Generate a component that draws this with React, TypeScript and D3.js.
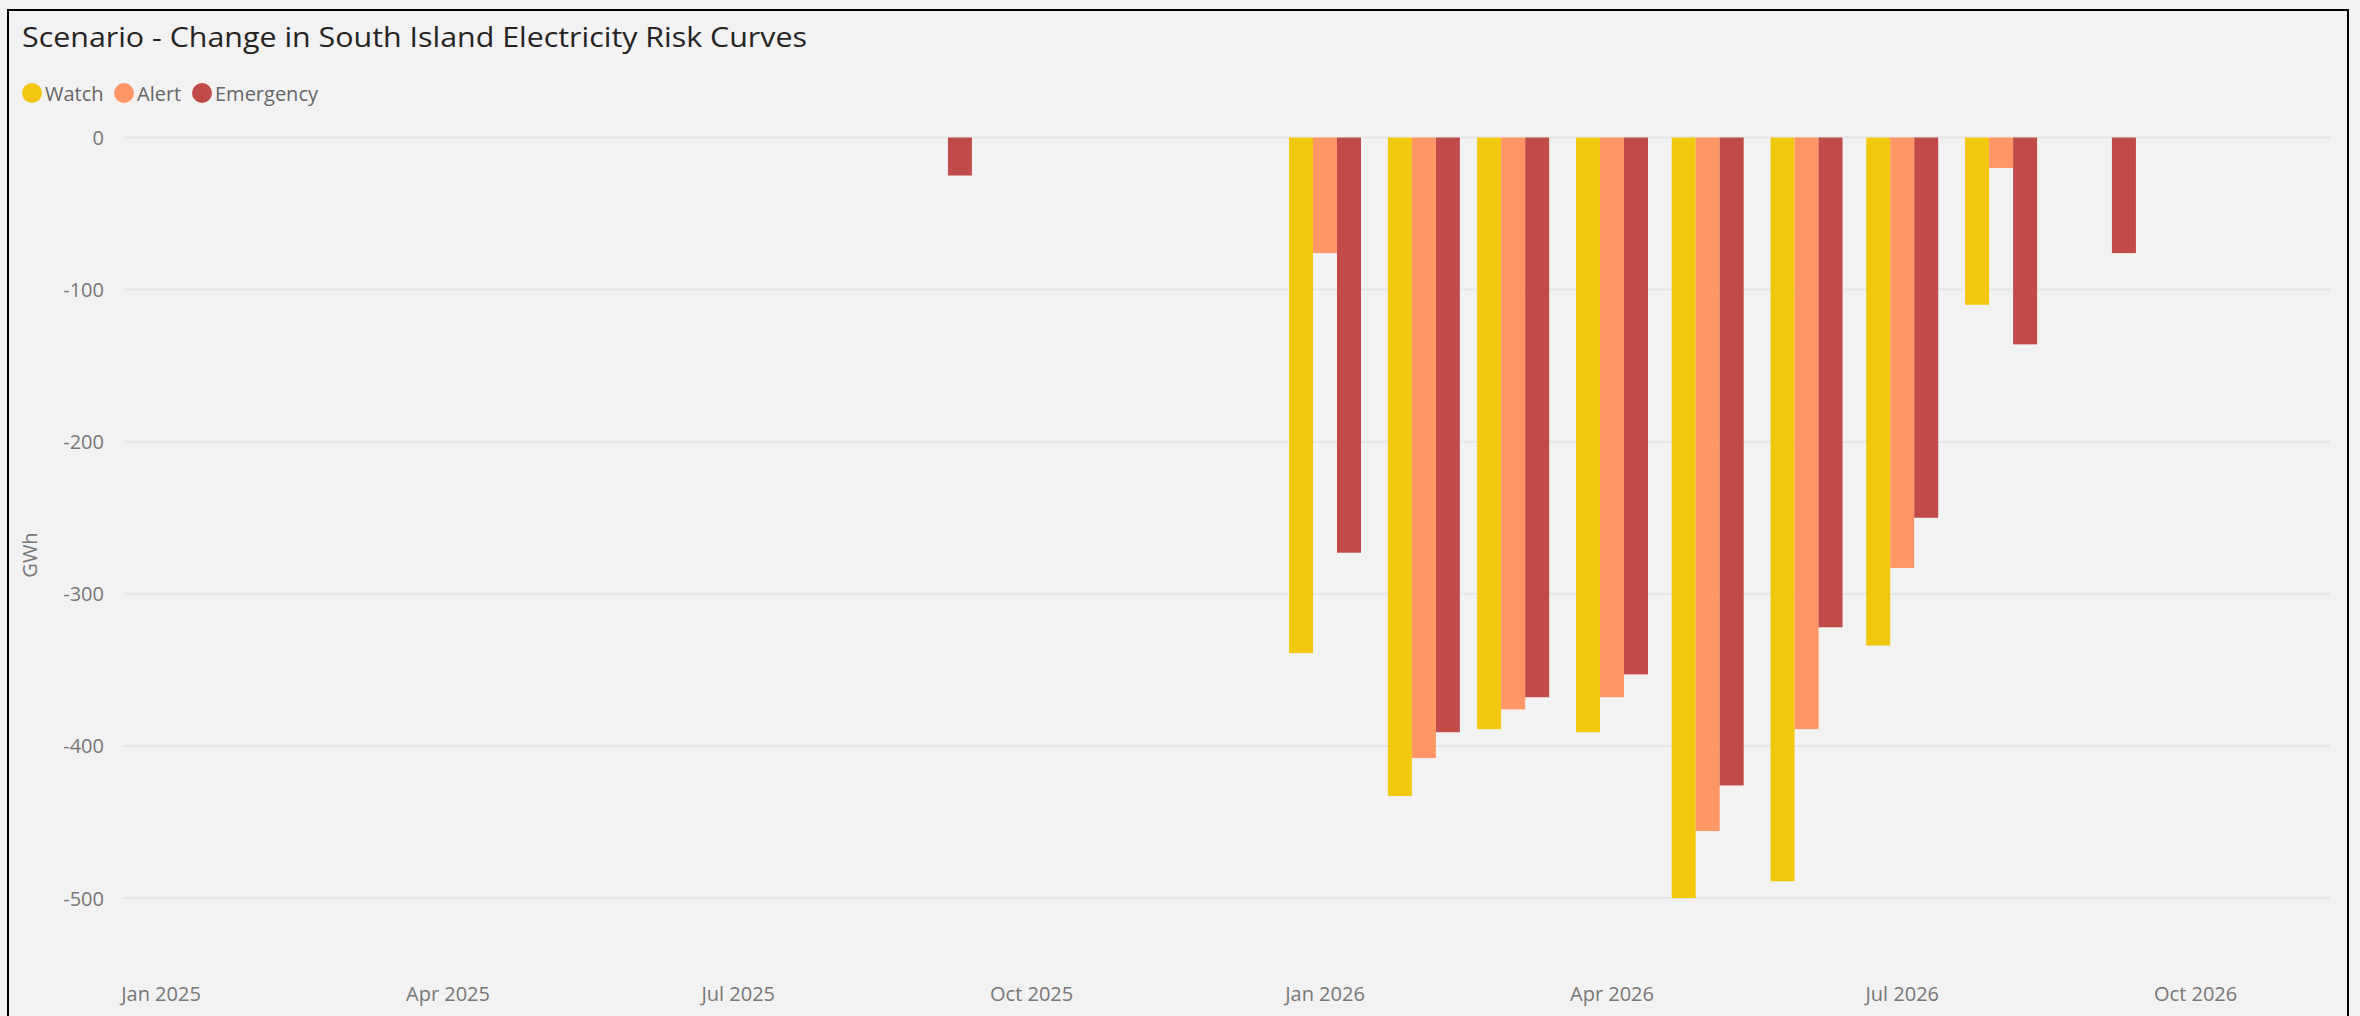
import React from "react";
import * as d3 from "d3";

// Monthly change in South Island electricity risk curves (GWh), by risk level
const months = [
  "2025-09", "2025-10", "2025-11", "2025-12",
  "2026-01", "2026-02", "2026-03", "2026-04",
  "2026-05", "2026-06", "2026-07", "2026-08", "2026-09",
];
const watch = [0, 0, 0, 0, -339, -433, -389, -391, -500, -489, -334, -110, 0];
const alert = [0, 0, 0, 0, -76, -408, -376, -368, -456, -389, -283, -20, 0];
const emergency = [-25, 0, 0, 0, -273, -391, -368, -353, -426, -322, -250, -136, -76];

const seriesNames = ["Watch", "Alert", "Emergency"];
const seriesValues = [watch, alert, emergency];
const seriesColors = ["#F2C80F", "#FE9666", "#C04B48"];

const yTicks = [0, -100, -200, -300, -400, -500];
const xTickLabels = ["Jan 2025", "Apr 2025", "Jul 2025", "Oct 2025", "Jan 2026", "Apr 2026", "Jul 2026", "Oct 2026"];

const W = 2360;
const H = 1016;
const FONT = "'Open Sans', 'Noto Sans', sans-serif";

export default function App() {
  const parseMonth = d3.timeParse("%Y-%m");
  const parseTick = d3.timeParse("%b %Y");
  const dates = months.map((m) => parseMonth(m) as Date);

  const plotLeft = 124;
  const plotRight = 2330;

  const x = d3
    .scaleTime()
    .domain([parseMonth("2025-01") as Date, parseMonth("2026-01") as Date])
    .range([161, 1325]);

  const y = d3.scaleLinear().domain([-500, 0]).range([898, 137.5]);

  const sub = d3.scaleBand().domain(seriesNames).range([-36, 36]).padding(0);

  const legendX = [22, 114, 192];

  return (
    <svg
      width={W}
      height={H}
      style={{ position: "absolute", left: 0, top: 0, display: "block" }}
      fontFamily={FONT}
    >
      <rect x={0} y={0} width={W} height={H} fill="#F2F2F2" />
      <rect x={8} y={10} width={2340} height={1100} fill="none" stroke="#000" strokeWidth={2} />

      <text x={22} y={47} fontSize={28} fill="#252423" textLength={785} lengthAdjust="spacingAndGlyphs">
        Scenario - Change in South Island Electricity Risk Curves
      </text>

      {seriesNames.map((name, i) => (
        <g key={name}>
          <circle cx={legendX[i] + 10} cy={93} r={10} fill={seriesColors[i]} />
          <text x={legendX[i] + 23} y={100.5} fontSize={20} fill="#666666">
            {name}
          </text>
        </g>
      ))}

      {yTicks.map((t) => (
        <g key={t}>
          <line x1={plotLeft} x2={plotRight} y1={y(t)} y2={y(t)} stroke="#E6E6E6" strokeWidth={2} />
          <text x={104} y={y(t)} fontSize={20} fill="#777777" textAnchor="end" dominantBaseline="central">
            {t}
          </text>
        </g>
      ))}

      <text
        transform={`translate(29, 555) rotate(-90)`}
        fontSize={20}
        fill="#777777"
        textAnchor="middle"
        dominantBaseline="central"
      >
        GWh
      </text>

      {xTickLabels.map((lbl) => (
        <text key={lbl} x={x(parseTick(lbl) as Date)} y={1001} fontSize={20} fill="#777777" textAnchor="middle">
          {lbl}
        </text>
      ))}

      {seriesNames.map((name, si) => (
        <g key={name} fill={seriesColors[si]}>
          {dates.map((d, di) => {
            const v = seriesValues[si][di];
            if (!v) return null;
            const x0 = x(d) + (sub(name) as number);
            const y0 = y(Math.max(0, v));
            const y1 = y(Math.min(0, v));
            return <rect key={di} x={x0} y={y0} width={sub.bandwidth()} height={y1 - y0} />;
          })}
        </g>
      ))}
    </svg>
  );
}
